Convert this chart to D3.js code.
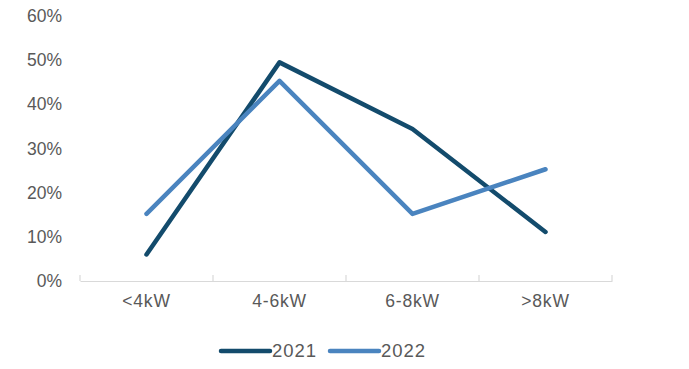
<!DOCTYPE html>
<html><head><meta charset="utf-8">
<script src="https://cdn.jsdelivr.net/npm/d3@7"></script>
<style>body{margin:0;background:#fff}svg{display:block}text{font-family:"Liberation Sans",Arial,sans-serif}</style>
</head><body><svg id="c" width="689" height="369"></svg>
<script>
const categories = ["<4kW","4-6kW","6-8kW",">8kW"];
const years = ["2021","2022"];
const values2021 = [0.06,0.495,0.344,0.111];
const values2022 = [0.152,0.453,0.152,0.253];
const yTicks = [0,0.1,0.2,0.3,0.4,0.5,0.6];
const colors = ["#134b6c","#4a84bf"];
const FS = 17.5;

const svg = d3.select("#c");
const x = d3.scaleBand().domain(categories).range([80,612]);
const y = d3.scaleLinear().domain([0,0.6]).range([281,16]);

// y labels
svg.append("g").selectAll("text").data(yTicks).join("text")
  .attr("x",62).attr("y",d=>y(d)).attr("dy","0.35em")
  .attr("text-anchor","end").attr("font-size",FS).attr("fill","#595959")
  .text(d=>d3.format(".0%")(d));

// x axis
const xa = svg.append("g").attr("transform","translate(0,281)")
  .call(d3.axisBottom(x).tickSize(0).tickPadding(14));
xa.select(".domain").attr("stroke","#d9d9d9").attr("stroke-width",1.2);
xa.selectAll("text").attr("font-size",FS).attr("fill","#595959")
  .attr("letter-spacing",0.8)
  .style("font-family",'"Liberation Sans",Arial,sans-serif');
const bounds = categories.map(c=>x(c)).concat([x.range()[1]]);
svg.append("g").selectAll("line").data(bounds).join("line")
  .attr("x1",d=>d).attr("x2",d=>d).attr("y1",275).attr("y2",281)
  .attr("stroke","#d9d9d9").attr("stroke-width",1.2);

const line = d3.line().x((d,i)=>x(categories[i])+x.bandwidth()/2).y(d=>y(d));
[values2021,values2022].forEach((vals,k)=>{
  svg.append("path").datum(vals).attr("d",line).attr("fill","none")
    .attr("stroke",colors[k]).attr("stroke-width",4.5)
    .attr("stroke-linejoin","round").attr("stroke-linecap","round");
});

// legend
const lg = svg.append("g");
const legX = [221,330];
years.forEach((yr,k)=>{
  lg.append("line").attr("x1",legX[k]).attr("x2",legX[k]+49).attr("y1",351).attr("y2",351)
    .attr("stroke",colors[k]).attr("stroke-width",4.5).attr("stroke-linecap","round");
  lg.append("text").attr("x",legX[k]+51).attr("y",351).attr("dy","0.35em")
    .attr("font-size",FS+1).attr("letter-spacing",1).attr("fill","#595959").text(yr);
});
</script></body></html>
